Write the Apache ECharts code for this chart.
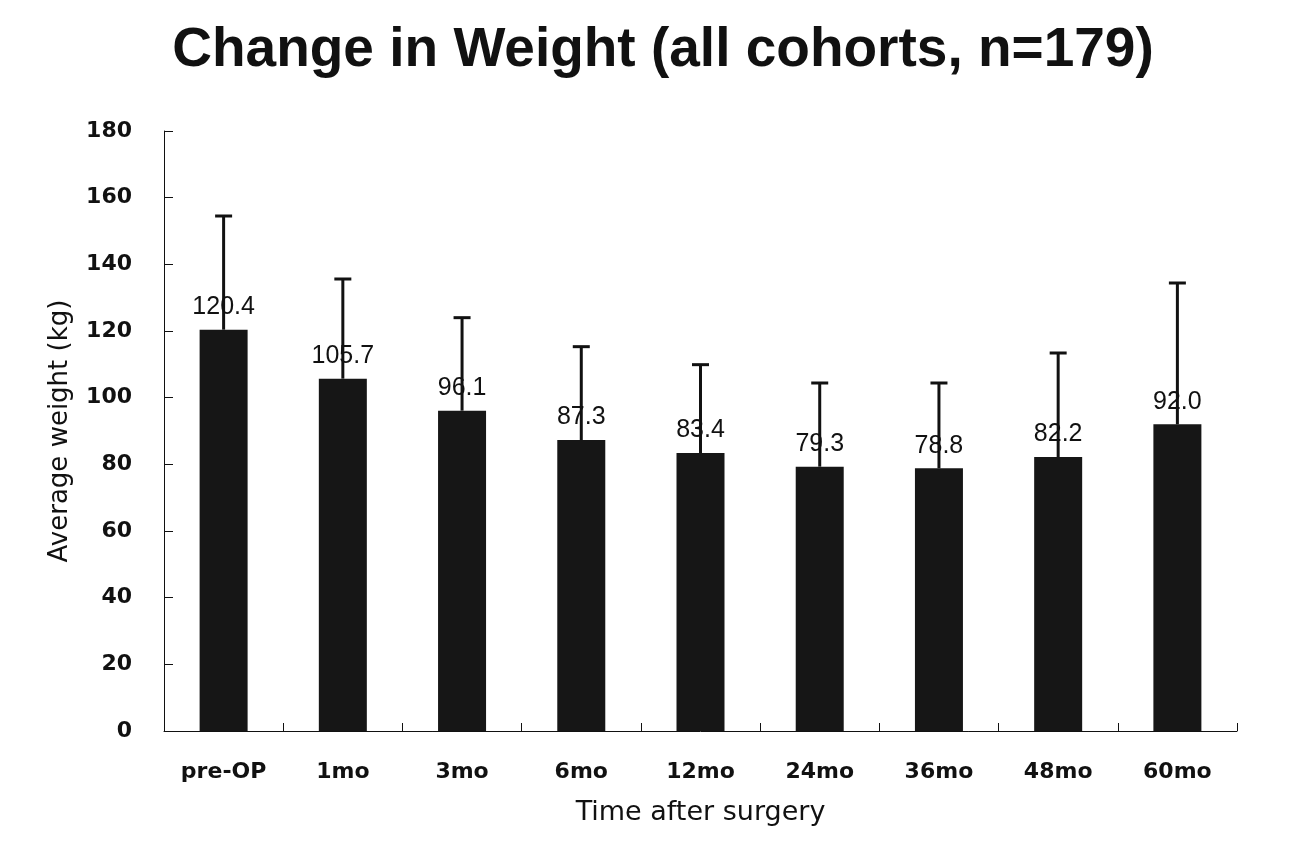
<!DOCTYPE html>
<html>
<head>
<meta charset="utf-8">
<script src="https://cdn.jsdelivr.net/npm/echarts@6/dist/echarts.min.js"></script>
<style>
html,body{margin:0;padding:0;background:#fff;}
#chart{width:1295px;height:845px;}
</style>
</head>
<body>
<div id="chart"></div>
<script>
var categories = ['pre-OP', '1mo', '3mo', '6mo', '12mo', '24mo', '36mo', '48mo', '60mo'];
var meanWeight = [120.4, 105.7, 96.1, 87.3, 83.4, 79.3, 78.8, 82.2, 92.0];
var errorUpper = [154.5, 135.6, 124.0, 115.3, 109.9, 104.4, 104.4, 113.4, 134.4];
var yTicks = [0, 20, 40, 60, 80, 100, 120, 140, 160, 180];

var chart = echarts.init(document.getElementById('chart'), null, {renderer: 'canvas'});

var errData = categories.map(function (c, i) { return [i, meanWeight[i], errorUpper[i]]; });

var option = {
  backgroundColor: '#ffffff',
  animation: false,
  title: {
    text: 'Change in Weight (all cohorts, n=179)',
    left: 658,
    textAlign: 'center',
    top: 18,
    textStyle: {
      fontFamily: 'Liberation Sans',
      fontWeight: 'bold',
      fontSize: 55,
      color: '#111'
    }
  },
  grid: {left: 164, right: 58, top: 131, bottom: 114, containLabel: false},
  xAxis: {
    type: 'category',
    data: categories,
    name: 'Time after surgery',
    nameLocation: 'middle',
    nameGap: 68,
    nameTextStyle: {fontFamily: 'DejaVu Sans', fontSize: 27, color: '#111'},
    axisLine: {lineStyle: {color: '#111', width: 1}},
    axisTick: {show: true, inside: true, length: 8, lineStyle: {color: '#111', width: 1}},
    axisLabel: {margin: 30, fontFamily: 'DejaVu Sans', fontWeight: 'bold', fontSize: 22, color: '#111'},
    splitLine: {show: false}
  },
  yAxis: {
    type: 'value',
    min: yTicks[0],
    max: yTicks[yTicks.length - 1],
    interval: 20,
    name: 'Average weight (kg)',
    nameLocation: 'middle',
    nameRotate: 90,
    nameGap: 91,
    nameTextStyle: {fontFamily: 'DejaVu Sans', fontSize: 26, color: '#111'},
    axisLine: {show: true, lineStyle: {color: '#111', width: 1}},
    axisTick: {show: true, inside: true, length: 9, lineStyle: {color: '#111', width: 1}},
    axisLabel: {margin: 32, fontFamily: 'DejaVu Sans', fontWeight: 'bold', fontSize: 22, color: '#111'},
    splitLine: {show: false}
  },
  series: [
    {
      type: 'bar',
      data: meanWeight,
      barWidth: 48,
      z: 2,
      itemStyle: {color: '#161616'},
      label: {
        show: true,
        position: 'top',
        distance: 10,
        formatter: function (p) { return p.value.toFixed(1); },
        fontFamily: 'Liberation Sans',
        fontSize: 25,
        color: '#111'
      }
    },
    {
      type: 'custom',
      z: 10,
      data: errData,
      renderItem: function (params, api) {
        var x = api.value(0);
        var base = api.coord([x, api.value(1)]);
        var top = api.coord([x, api.value(2)]);
        var hw = 8.5;
        return {
          type: 'group',
          children: [
            {type: 'line', shape: {x1: base[0], y1: base[1], x2: top[0], y2: top[1]},
             style: {stroke: '#111', lineWidth: 3}},
            {type: 'line', shape: {x1: top[0] - hw, y1: top[1], x2: top[0] + hw, y2: top[1]},
             style: {stroke: '#111', lineWidth: 3}}
          ]
        };
      }
    }
  ]
};
chart.setOption(option);
</script>
</body>
</html>
